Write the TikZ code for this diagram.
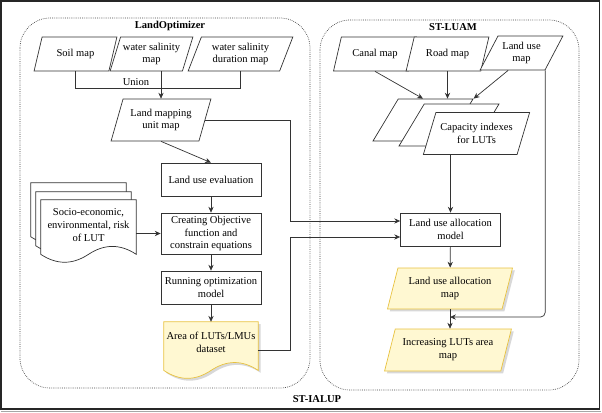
\documentclass[tikz,border=0pt]{standalone}
\usepackage{fontspec}
\setmainfont{Liberation Serif}
\usepackage{xcolor}
\usepackage{tikz}
\usetikzlibrary{arrows.meta,shapes.geometric,shadows,calc}

\definecolor{noteFill}{HTML}{FFF8D2}
\definecolor{noteLine}{HTML}{E8C23F}
\definecolor{wireGray}{HTML}{333333}

\pgfdeclarelayer{background}
\pgfsetlayers{background,main}

\newcommand{\docshape}[3][draw=wireGray,fill=white]{%
  \begin{pgfonlayer}{background}
  \path[#1,line width=0.6pt] let \p1=(#2.south west), \p2=(#2.north east) in
    (\x1,\y2) -- (\x2,\y2) -- (\x2,{\y1-#3})
    .. controls ({\x2-(\x2-\x1)/6},{\y1-#3+9pt}) and ({\x2-(\x2-\x1)/3},{\y1-#3+9pt}) .. ({(\x1+\x2)/2},{\y1-#3})
    .. controls ({\x1+(\x2-\x1)/3},{\y1-#3-9pt}) and ({\x1+(\x2-\x1)/6},{\y1-#3-9pt}) .. (\x1,{\y1-#3})
    -- cycle;
  \end{pgfonlayer}}

\begin{document}
\begin{tikzpicture}[x=0.03cm,y=-0.03cm,>={Stealth[length=5pt,width=4.5pt]},
  font=\fontsize{9}{11}\selectfont,
  tilt/.style={trapezium left angle=#1,trapezium right angle=180-#1},
  data/.style={trapezium,trapezium stretches=true,tilt=68,draw=wireGray,fill=white,line width=0.6pt,
    align=center,inner sep=1pt,minimum width=2.49cm,minimum height=1.02cm},
  note/.style={data,draw=noteLine,fill=noteFill,
    drop shadow={shadow xshift=2pt,shadow yshift=-2pt,fill=black!30,opacity=0.5}},
  proc/.style={rectangle,draw=wireGray,fill=white,line width=0.6pt,align=center,inner sep=1pt,
    minimum width=3cm,minimum height=0.99cm},
  doc/.style={rectangle,align=center,inner sep=1pt,minimum width=2.85cm,minimum height=1.5cm},
  group/.style={draw=black!75,line width=0.6pt,densely dotted,rounded corners=0.9cm},
  title/.style={font=\fontsize{9}{11}\selectfont\bfseries},
  wire/.style={draw=wireGray,line width=0.6pt}]

  \useasboundingbox (0,0) rectangle (602,413);
  \draw[line width=0.9pt,black!85] (1,1) rectangle (599.5,409);
  \draw[line width=0.8pt,black!35] (1,411.5) -- (601,411.5);

  \draw[group] (20,18) rectangle (310,388);
  \draw[group] (320,20) rectangle (579,390);

  \node[title] (optTitle) at (170,26) {LandOptimizer};
  \node[title] (luamTitle) at (453,27) {ST-LUAM};
  \node[title] (ialupTitle) at (317,399) {ST-IALUP};

  \node[data] (soil) at (75.5,54) {Soil map};
  \node[data] (wsal) at (151.5,54) {water salinity\\map};
  \node[data,minimum width=3.15cm] (wdur) at (240.5,54) {water salinity\\duration map};
  \node (union) at (136,82) {Union};
  \node[data,minimum width=3cm,minimum height=1.26cm] (lmu) at (161,120) {Land mapping\\unit map};
  \node[proc] (lue) at (211,179.5) {Land use evaluation};
  \node[proc,minimum height=1.23cm] (cobj) at (211,233.5) {Creating Objective\\function and\\constrain equations};
  \node[proc] (runopt) at (211,287.5) {Running optimization\\model};
  \node[doc,minimum width=2.82cm,minimum height=1.2cm] (area) at (211,342) {Area of LUTs/LMUs\\dataset};
  \node[doc] (socioC) at (78.5,208) {};
  \node[doc] (socioB) at (83.5,217) {};
  \node[doc] (socio) at (88.5,225) {Socio-economic,\\environmental, risk\\of LUT};

  \node[data,tilt=65] (canal) at (375,54) {Canal map};
  \node[data,tilt=65] (road) at (447.5,54) {Road map};
  \node[data,tilt=58] (lum) at (521.5,53) {Land use\\map};
  \node[data,tilt=63,minimum width=3cm,minimum height=1.26cm] (capC) at (423,120) {};
  \node[data,tilt=63,minimum width=3cm,minimum height=1.26cm] (capB) at (449,125) {};
  \node[data,tilt=63,minimum width=3.21cm,minimum height=1.26cm] (cap) at (476.5,133.5) {Capacity indexes\\for LUTs};
  \node[proc] (lua) at (450.5,229.5) {Land use allocation\\model};
  \node[note,tilt=71,minimum width=3.78cm,minimum height=1.23cm] (luamap) at (450,288.5) {Land use allocation\\map};
  \node[note,tilt=69,minimum width=3.84cm,minimum height=1.26cm] (incr) at (448,350) {Increasing LUTs area\\map};

  \docshape{socioC}{3pt}
  \docshape{socioB}{3pt}
  \docshape{socio}{3.5pt}
  \docshape[draw=noteLine,fill=noteFill,drop shadow={shadow xshift=2pt,shadow yshift=-2pt,fill=black!30,opacity=0.5}]{area}{7pt}

  \coordinate (seam) at (0,88);
  \coordinate (bus) at (290,0);
  \coordinate (in1) at ([yshift=0.255cm]lua.west);
  \coordinate (in2) at ([yshift=-0.225cm]lua.west);
  \coordinate (areaOut) at ([yshift=-0.24cm]area.east);
  \coordinate (lumOut) at (lum.bottom right corner);
  \coordinate (merge) at ($(luamap.south)!0.4!(luamap.south |- incr.north)$);

  \draw[wire] (soil.south) -- (soil.south |- seam) -- (wdur.south |- seam) -- (wdur.south);
  \draw[wire,->] (wsal.south -| lmu.north) -- (lmu.north);
  \draw[wire,->] (lmu.south) -- (lue.north);
  \draw[wire,->] (lue) -- (cobj);
  \draw[wire,->] (cobj) -- (runopt);
  \draw[wire,->] (runopt) -- (area);
  \draw[wire,->] (cobj.west -| socio.east) -- (cobj.west);
  \draw[wire,->] (lmu.east) -| (bus |- in1) -- (in1);
  \draw[wire,->] (areaOut) -| (bus |- in2) -- (in2);

  \draw[wire,->] (canal.south) -- (capC.north);
  \draw[wire,->] (road.south) -- (road.south |- capC.north);
  \draw[wire,->] ([xshift=-0.4cm]lum.south) -- (capC.top right corner);
  \draw[wire,->] (cap.south -| lua.north) -- (lua.north);
  \draw[wire,->] (lua) -- (luamap);
  \draw[wire,->] (luamap.south) -- (luamap.south |- incr.north);
  \draw[wire,->,rounded corners=4pt] (lumOut) |- (merge);
\end{tikzpicture}
\end{document}
